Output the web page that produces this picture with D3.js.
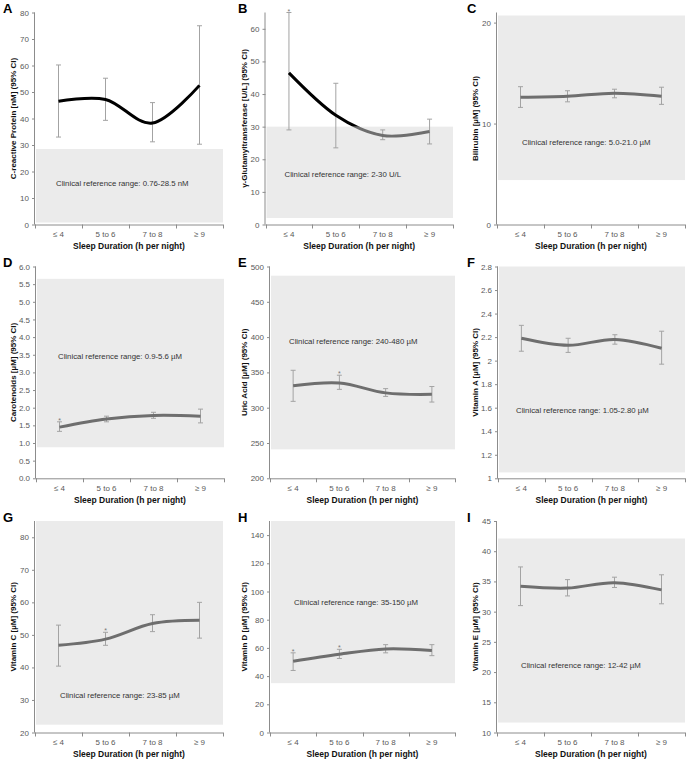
<!DOCTYPE html>
<html><head><meta charset="utf-8">
<script src="https://cdn.jsdelivr.net/npm/d3@7"></script>
<style>body{margin:0;background:#fff}</style></head>
<body>
<script>
// ---------- data ----------
const categories = ["≤ 4", "5 to 6", "7 to 8", "≥ 9"];

const crpMean = [46.5, 47.2, 38.3, 52.5], crpLow = [33.0, 39.3, 31.2, 30.3], crpHigh = [60.2, 55.2, 46.0, 75.0];
const ggtMean = [46.5, 33.5, 27.3, 28.5], ggtLow = [29.0, 23.5, 26.0, 24.7], ggtHigh = [65.0, 43.3, 29.0, 32.3];
const bilMean = [12.6, 12.7, 13.0, 12.7], bilLow = [11.6, 12.15, 12.55, 11.9], bilHigh = [13.65, 13.25, 13.4, 13.6];
const carMean = [1.45, 1.68, 1.78, 1.76], carLow = [1.33, 1.60, 1.70, 1.57], carHigh = [1.60, 1.76, 1.87, 1.96];
const uaMean = [331, 335, 321, 319], uaLow = [309, 326, 316, 308], uaHigh = [353, 346, 327, 330];
const vaMean = [2.19, 2.13, 2.18, 2.105], vaLow = [2.08, 2.07, 2.14, 1.97], vaHigh = [2.30, 2.19, 2.22, 2.25];
const vcMean = [46.8, 48.7, 53.5, 54.5], vcLow = [40.4, 46.8, 51.0, 49.0], vcHigh = [53.0, 50.8, 56.2, 60.0];
const vdMean = [50.5, 55.5, 59.3, 58.2], vdLow = [44.0, 52.5, 56.5, 54.5], vdHigh = [56.5, 59.0, 62.3, 62.3];
const veMean = [34.2, 33.9, 34.8, 33.6], veLow = [31.0, 32.6, 34.0, 31.3], veHigh = [37.4, 35.3, 35.7, 36.1];

const panelLetters = ["A", "B", "C", "D", "E", "F", "G", "H", "I"];
const yTitles = [
  "C-reactive Protein [nM] (95% CI)", "γ-Glutamyltransferase [U/L] (95% CI)", "Bilirubin [µM] (95% CI)",
  "Carotenoids  [µM] (95% CI)", "Uric Acid  [µM] (95% CI)", "Vitamin  A  [µM] (95% CI)",
  "Vitamin  C  [µM] (95% CI)", "Vitamin D [µM] (95% CI)", "Vitamin  E  [µM] (95% CI)"];
const yDomains = [[0, 80], [0, 65], [0, 21], [0, 6], [200, 500], [1, 2.8], [20, 85], [0, 150], [10, 45]];
const yTickValues = [
  [0, 10, 20, 30, 40, 50, 60, 70, 80], [0, 10, 20, 30, 40, 50, 60], [0, 10, 20],
  [0, 0.5, 1, 1.5, 2, 2.5, 3, 3.5, 4, 4.5, 5, 5.5, 6], [200, 250, 300, 350, 400, 450, 500],
  [1, 1.2, 1.4, 1.6, 1.8, 2, 2.2, 2.4, 2.6, 2.8], [20, 30, 40, 50, 60, 70, 80],
  [0, 20, 40, 60, 80, 100, 120, 140], [10, 15, 20, 25, 30, 35, 40, 45]];
const refRanges = [[0.76, 28.5], [2, 30], [4.4, 20.7], [0.88, 5.65], [241, 487], [1.05, 2.8], [22.4, 85], [35, 150], [11.65, 42.1]];
const refTexts = [
  "Clinical reference range:  0.76-28.5 nM", "Clinical reference range:  2-30 U/L", "Clinical reference range:  5.0-21.0 µM",
  "Clinical reference range:  0.9-5.6 µM", "Clinical reference range:  240-480 µM", "Clinical reference range:  1.05-2.80 µM",
  "Clinical reference range:  23-85 µM", "Clinical reference range:  35-150 µM", "Clinical reference range:  12-42 µM"];
const means = [crpMean, ggtMean, bilMean, carMean, uaMean, vaMean, vcMean, vdMean, veMean];
const lows = [crpLow, ggtLow, bilLow, carLow, uaLow, vaLow, vcLow, vdLow, veLow];
const highs = [crpHigh, ggtHigh, bilHigh, carHigh, uaHigh, vaHigh, vcHigh, vdHigh, veHigh];
const starred = [[], [0], [], [0], [1], [], [1], [0, 1], []];

// ---------- layout (positions / styles) ----------
const W = 694, H = 765;
const rowTop = [12.5, 266.5, 521], rowBottom = [224.5, 478.3, 732.5];
const plotLeft = [35, 265.5, 497, 36, 270, 498, 35, 270, 497];
const plotRight = [223, 453, 685, 224, 455, 685, 223, 455, 685];
const colTitleX = [13, 244, 475];
const colLetterX = [3, 238, 467];
const refTextPos = [[21, 15.6], [19, 15.4], [25, 8.17], [22, 3.45], [19, 393.4], [18, 1.577], [25, 31.5], [24, 92.4], [24, 21.1]];
const tickFormats = [null, null, null, ".1f", null, "f1", null, null, null];

const axisColor = "#8c8c8c", tickText = "#595959", bandColor = "#ebebeb";
const lineGrey = "#6e6e6e", errColor = "#a3a3a3";
const baseFont = "'Liberation Sans', Arial, sans-serif";
const narrowFont = "'Liberation Sans Narrow', 'Arial Narrow', 'Liberation Sans', Arial, sans-serif";

const svg = d3.select("body").append("svg").attr("width", W).attr("height", H)
  .style("font-family", baseFont);
const defs = svg.append("defs");

panelLetters.forEach((letter, i) => {
  const row = Math.floor(i / 3), col = i % 3;
  const x0 = plotLeft[i], x1 = plotRight[i];
  const yb = rowBottom[row], yt = rowTop[row];
  const x = d3.scaleBand().domain(categories).range([x0, x1]);
  const y = d3.scaleLinear().domain(yDomains[i]).range([yb, yt]);
  const g = svg.append("g");

  // reference band
  const r = refRanges[i];
  g.append("rect").attr("x", x0 + 1).attr("width", x1 - x0 - 1)
    .attr("y", y(r[1])).attr("height", y(r[0]) - y(r[1])).attr("fill", bandColor);

  // y axis
  let fmt;
  if (tickFormats[i] === "f1") fmt = d => d3.format(".1f")(d).replace(/\.0$/, "");
  else if (tickFormats[i]) fmt = d3.format(tickFormats[i]);
  else fmt = d3.format("d");
  const ya = g.append("g").attr("transform", `translate(${x0},0)`)
    .call(d3.axisLeft(y).tickValues(yTickValues[i]).tickSize(3).tickPadding(3).tickFormat(fmt));
  ya.select(".domain").attr("stroke", axisColor).attr("d", `M-0.5,${yb}V${yt}`);
  ya.selectAll(".tick line").attr("stroke", axisColor);
  ya.selectAll(".tick text").attr("fill", tickText).style("font-size", "8px").style("font-family", baseFont);

  // x axis
  const xa = g.append("g").attr("transform", `translate(0,${yb})`);
  xa.append("line").attr("x1", x0).attr("x2", x1).attr("y1", 0.5).attr("y2", 0.5).attr("stroke", axisColor);
  const bounds = categories.map(c => x(c)).concat([x1]);
  xa.selectAll("line.tk").data(bounds).join("line").attr("class", "tk")
    .attr("x1", d => Math.round(d) + 0.5).attr("x2", d => Math.round(d) + 0.5)
    .attr("y1", 0).attr("y2", 4).attr("stroke", axisColor);
  xa.selectAll("text.cat").data(categories).join("text").attr("class", "cat")
    .attr("x", d => x(d) + x.bandwidth() / 2).attr("y", 12.5)
    .attr("text-anchor", "middle").attr("fill", tickText).style("font-size", "8px").text(d => d);
  xa.append("text").attr("x", (x0 + x1) / 2).attr("y", 24.5).attr("text-anchor", "middle")
    .style("font-family", narrowFont).style("font-weight", "bold").style("font-size", "8.5px")
    .attr("fill", "#111").text("Sleep Duration (h per night)");

  // y title
  g.append("text").attr("transform", `translate(${colTitleX[col]},${(yt + yb) / 2}) rotate(-90)`)
    .attr("text-anchor", "middle").attr("dominant-baseline", "central")
    .style("font-family", narrowFont).style("font-weight", "bold").style("font-size", "8px")
    .attr("fill", "#111").text(yTitles[i]);

  // panel letter
  svg.append("text").attr("x", colLetterX[col]).attr("y", yt + 0.5).style("font-weight", "bold")
    .style("font-size", "13px").attr("fill", "#000").text(letter);

  // reference text
  g.append("text").attr("x", x0 + refTextPos[i][0]).attr("y", y(refTextPos[i][1]))
    .attr("dominant-baseline", "central").style("font-size", "7.8px").attr("fill", "#333")
    .text(refTexts[i]);

  // error bars
  const pts = categories.map((c, k) => ({ c, m: means[i][k], lo: lows[i][k], hi: highs[i][k], k }));
  const cx = d => x(d.c) + x.bandwidth() / 2;
  const eb = g.append("g").attr("stroke", errColor).attr("stroke-width", 1).attr("fill", "none");
  pts.forEach(d => {
    eb.append("line").attr("x1", cx(d)).attr("x2", cx(d)).attr("y1", y(d.lo)).attr("y2", y(d.hi));
    eb.append("line").attr("x1", cx(d) - 2.5).attr("x2", cx(d) + 2.5).attr("y1", y(d.lo)).attr("y2", y(d.lo));
    eb.append("line").attr("x1", cx(d) - 2.5).attr("x2", cx(d) + 2.5).attr("y1", y(d.hi)).attr("y2", y(d.hi));
  });
  starred[i].forEach(k => {
    const d = pts[k];
    g.append("text").attr("x", cx(d)).attr("y", y(d.hi) + 1).attr("text-anchor", "middle")
      .style("font-size", "7px").attr("fill", "#777").text("*");
  });

  // mean line: black outside reference band, grey inside
  const line = d3.line().x(cx).y(d => y(d.m)).curve(d3.curveCardinal.tension(0));
  const inId = "clipIn" + letter, outId = "clipOut" + letter;
  defs.append("clipPath").attr("id", inId).append("rect")
    .attr("x", 0).attr("width", W).attr("y", y(r[1])).attr("height", y(r[0]) - y(r[1]));
  const outClip = defs.append("clipPath").attr("id", outId);
  outClip.append("rect").attr("x", 0).attr("width", W).attr("y", 0).attr("height", Math.max(0, y(r[1])));
  outClip.append("rect").attr("x", 0).attr("width", W).attr("y", y(r[0])).attr("height", Math.max(0, H - y(r[0])));
  g.append("path").datum(pts).attr("d", line).attr("fill", "none")
    .attr("stroke", "#000").attr("stroke-width", 3).attr("clip-path", `url(#${outId})`);
  g.append("path").datum(pts).attr("d", line).attr("fill", "none")
    .attr("stroke", lineGrey).attr("stroke-width", 3).attr("clip-path", `url(#${inId})`);
});
</script>
</body></html>
